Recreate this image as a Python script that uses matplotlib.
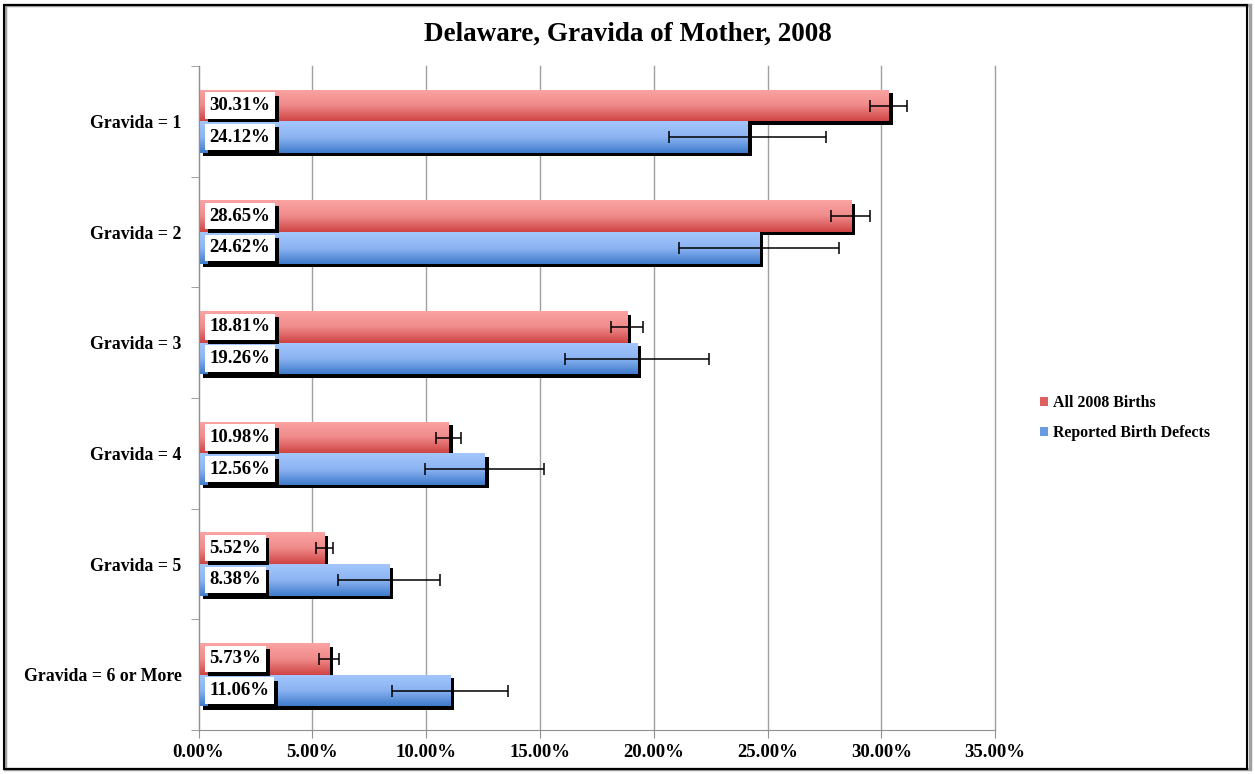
import numpy as np
import matplotlib.pyplot as plt
import matplotlib.patheffects as pe
from matplotlib.patches import Rectangle, Patch
from matplotlib.colors import LinearSegmentedColormap
from matplotlib.ticker import FuncFormatter, FixedLocator

plt.rcParams['font.family'] = ['Liberation Serif', 'DejaVu Serif']
plt.rcParams['font.weight'] = 'bold'

categories = ['Gravida = 1', 'Gravida = 2', 'Gravida = 3',
              'Gravida = 4', 'Gravida = 5', 'Gravida = 6 or More']
all_births = [30.31, 28.65, 18.81, 10.98, 5.52, 5.73]
defects = [24.12, 24.62, 19.26, 12.56, 8.38, 11.06]
all_err = [0.80, 0.85, 0.70, 0.55, 0.37, 0.45]
defects_err = [3.45, 3.50, 3.15, 2.60, 2.25, 2.55]
x_ticks = [0, 5, 10, 15, 20, 25, 30, 35]

red_cmap = LinearSegmentedColormap.from_list('r', ['#FBA3A3', '#F08A8A', '#CF4444'])
blue_cmap = LinearSegmentedColormap.from_list('b', ['#A3C6FC', '#8CB4F2', '#3F7BCC'])

fig = plt.figure(figsize=(12.55, 7.74), dpi=100)
ax = fig.add_axes([0.1582, 0.0568, 0.6347, 0.8579])

h = 0.286
y = np.arange(len(categories))
shadow = [pe.SimplePatchShadow(offset=(3, -2.5), shadow_rgbFace='black', alpha=1.0), pe.Normal()]

grad = np.linspace(0, 1, 64).reshape(-1, 1)
for vals, errs, off, cmap, color in [
        (all_births, all_err, -h / 2, red_cmap, '#E06666'),
        (defects, defects_err, h / 2, blue_cmap, '#6A9BE0')]:
    bars = ax.barh(y + off, vals, height=h, color=color, zorder=2)
    for b in bars:
        b.set_path_effects(shadow)
        x0, y0, w, hh = b.get_x(), b.get_y(), b.get_width(), b.get_height()
        im = ax.imshow(grad, cmap=cmap, aspect='auto', extent=(x0, x0 + w, y0 + hh, y0),
                       zorder=2.5, interpolation='bicubic')
        im.set_clip_path(b)
    ax.errorbar(vals, y + off, xerr=errs, fmt='none', ecolor='black', elinewidth=1.1,
                capsize=4, capthick=1.1, zorder=4)
    for yi, v in zip(y + off, vals):
        t = ax.annotate(f'{v:.2f}%', xy=(0, yi), xytext=(8, 0), textcoords='offset points',
                        ha='left', va='center', fontsize=13.5, fontweight='bold', color='black',
                        bbox=dict(boxstyle='square,pad=0.25', fc='white', ec='none'), zorder=5)
        t.get_bbox_patch().set_path_effects(
            [pe.SimplePatchShadow(offset=(2.5, -2.5), shadow_rgbFace='black', alpha=1.0), pe.Normal()])

ax.set_xlim(0, 35)
ax.set_ylim(len(categories) - 0.5, -0.5)
ax.set_xticks(x_ticks)
ax.xaxis.set_major_formatter(FuncFormatter(lambda v, p: f'{v:.2f}%'))
ax.set_yticks(y)
ax.set_yticklabels(categories)
ax.yaxis.set_minor_locator(FixedLocator(np.arange(-0.5, len(categories), 1)))
ax.tick_params(axis='y', which='major', length=0, pad=12, labelsize=12.8)
ax.tick_params(axis='y', which='minor', length=6, color='#909090')
ax.tick_params(axis='x', length=6, color='#909090', pad=4, labelsize=13.5)
for lbl in ax.get_xticklabels() + ax.get_yticklabels():
    lbl.set_fontweight('bold')
ax.grid(axis='x', color='#A0A0A0', linewidth=1, zorder=0)
for gl in ax.get_xgridlines():
    gl.set_clip_on(False)
ax.set_axisbelow(True)
for s in ['top', 'right']:
    ax.spines[s].set_visible(False)
for s in ['left', 'bottom']:
    ax.spines[s].set_color('#909090')

handles = [Patch(facecolor='#E06060', label='All 2008 Births'),
           Patch(facecolor='#6A9BE0', label='Reported Birth Defects')]
leg = fig.legend(handles=handles, loc='center left', bbox_to_anchor=(0.817, 0.46),
                 frameon=False, fontsize=11.4, handlelength=0.5, handleheight=0.5,
                 handletextpad=0.35, labelspacing=0.85)
for txt in leg.get_texts():
    txt.set_fontweight('bold')

fig.text(0.5, 0.956, 'Delaware, Gravida of Mother, 2008', ha='center', va='center',
         fontsize=19.5, fontweight='bold')

fig.patches.append(Rectangle((0.004, 0.006), 0.992, 0.988, transform=fig.transFigure,
                             fill=False, ec='#A0A0A0', lw=2.5, zorder=0))
fig.patches.append(Rectangle((0.003, 0.007), 0.991, 0.987, transform=fig.transFigure,
                             fill=False, ec='black', lw=1.5, zorder=1))

fig.savefig('out.png', dpi=100)
